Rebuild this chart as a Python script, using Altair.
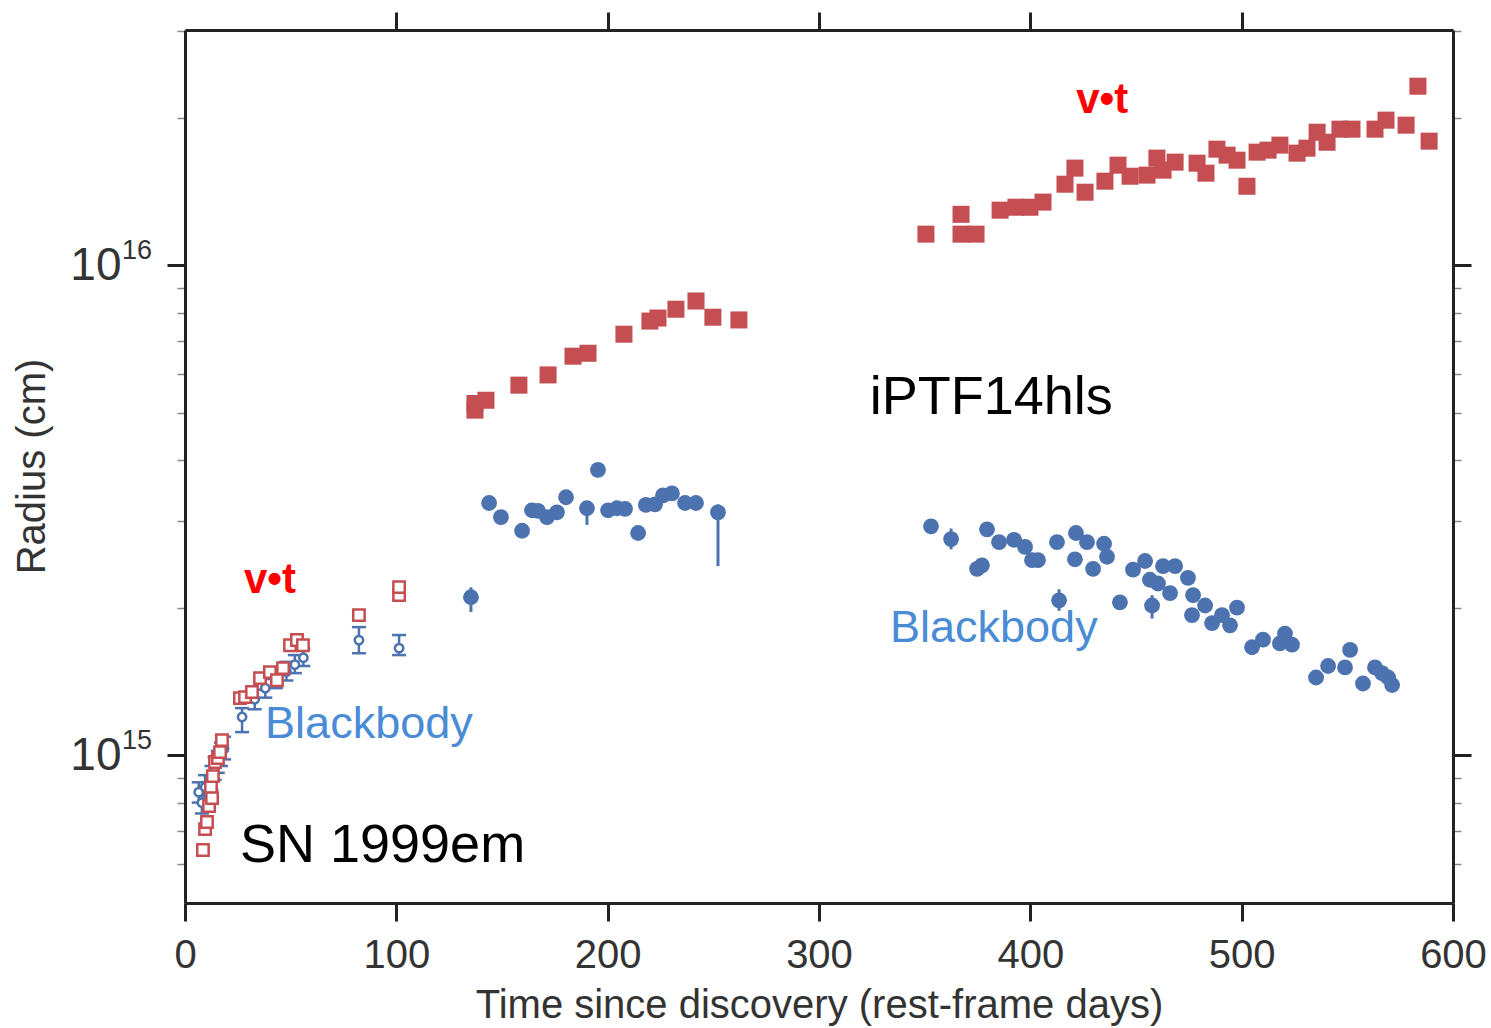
import altair as alt
import pandas as pd

RED = "#c44e52"
BLUE = "#4c72b0"
BB_TEXT = "#4a8bd6"
FONT = "Liberation Sans, Arial, Helvetica, sans-serif"
E15 = 1e15

# iPTF14hls, v*t radius (filled red squares), radius in units of 1e15 cm
vt_days = [137.2, 137.2, 142.4, 158.0, 171.8, 183.6, 190.7, 207.7, 220.0, 223.8, 232.3, 241.8, 249.8, 262.1,
           350.6, 367.2, 367.2, 374.3, 385.7, 393.2, 399.8, 406.0, 416.4, 421.1, 425.9, 435.3, 441.5, 447.2,
           455.2, 459.9, 462.8, 468.5, 478.9, 483.1, 488.3, 493.1, 497.8, 502.5, 507.3, 512.5, 518.1, 526.2,
           530.9, 535.7, 540.4, 546.5, 552.2, 563.1, 568.3, 577.8, 583.4, 588.7]
vt_r = [5.06, 5.22, 5.30, 5.69, 5.97, 6.52, 6.61, 7.23, 7.69, 7.80, 8.13, 8.45, 7.83, 7.73,
        11.57, 12.7, 11.57, 11.57, 12.95, 13.13, 13.13, 13.45, 14.63, 15.78, 14.09, 14.84, 16.0, 15.19,
        15.27, 16.54, 15.63, 16.23, 16.15, 15.41, 17.25, 16.77, 16.38, 14.49, 17.01, 17.17, 17.58, 16.93,
        17.33, 18.68, 17.82, 18.95, 18.95, 18.95, 19.77, 19.31, 23.19, 17.91]

# iPTF14hls, blackbody radius (filled blue circles)
bb_days = [135.3, 143.9, 149.5, 159.5, 164.2, 167.0, 171.3, 176.0, 180.3, 190.2, 195.4, 200.2, 204.4, 208.2,
           214.4, 218.1, 222.4, 226.2, 230.4, 236.6, 241.8, 252.2,
           353.0, 362.5, 379.5, 374.8, 377.1, 385.2, 392.3, 397.5, 400.8, 403.6, 412.6, 413.6, 421.6, 421.1,
           426.8, 429.7, 434.9, 436.3, 442.4, 448.6, 454.3, 462.8, 468.5, 474.6, 456.6, 460.4, 466.1, 457.6,
           477.0, 482.7, 476.5, 486.0, 490.7, 494.5, 497.8, 504.9, 510.1, 520.5, 518.1, 523.8, 535.2, 540.9,
           548.9, 551.3, 557.4, 563.1, 566.4, 569.3, 571.2]
bb_r = [2.10, 3.27, 3.06, 2.87, 3.16, 3.15, 3.06, 3.13, 3.36, 3.19, 3.82, 3.16, 3.19, 3.18,
        2.84, 3.24, 3.25, 3.39, 3.42, 3.27, 3.27, 3.13,
        2.93, 2.76, 2.89, 2.40, 2.44, 2.72, 2.75, 2.66, 2.50, 2.50, 2.72, 2.07, 2.84, 2.51,
        2.72, 2.40, 2.70, 2.54, 2.05, 2.39, 2.49, 2.43, 2.43, 2.30, 2.28, 2.24, 2.14, 2.02,
        2.12, 2.02, 1.93, 1.86, 1.93, 1.84, 2.00, 1.66, 1.72, 1.77, 1.69, 1.68, 1.44, 1.52,
        1.51, 1.64, 1.40, 1.51, 1.47, 1.44, 1.39]

# error bars on a few iPTF14hls blackbody points
bb_err_days = [135.3, 190.2, 252.2, 362.5, 413.6, 457.6]
bb_err_lo = [1.96, 2.95, 2.43, 2.63, 1.97, 1.90]
bb_err_hi = [2.20, 3.25, 3.25, 2.90, 2.18, 2.12]

# SN 1999em, v*t radius (open red squares)
sn_vt_days = [8.5, 9.5, 10.4, 11.4, 12.3, 12.8, 13.2, 14.2, 15.6, 16.6, 17.5, 26.0, 28.4, 31.7, 35.5, 40.2,
              43.5, 46.4, 49.7, 53.0, 55.8, 82.3, 101.3, 101.3]
sn_vt_r = [0.640, 0.706, 0.730, 0.787, 0.860, 0.817, 0.906, 0.968, 0.986, 1.014, 1.073, 1.307, 1.313, 1.345,
           1.436, 1.477, 1.422, 1.505, 1.676, 1.717, 1.676, 1.931, 2.121, 2.202]

# SN 1999em, blackbody radius (open blue circles with error bars)
sn_bb_days = [6.5, 8.0, 9.5, 11.0, 12.5, 14.0, 15.5, 17.0, 18.5, 27.0, 33.0, 38.0, 43.0, 48.0, 52.0, 56.0, 82.3, 101.3]
sn_bb_r = [0.84, 0.80, 0.86, 0.83, 0.90, 0.94, 0.97, 1.00, 1.03, 1.196, 1.30, 1.37, 1.43, 1.48, 1.53, 1.58, 1.717, 1.653]
sn_bb_lo = [0.80, 0.76, 0.81, 0.79, 0.85, 0.89, 0.92, 0.95, 0.98, 1.114, 1.24, 1.31, 1.37, 1.42, 1.47, 1.52, 1.614, 1.600]
sn_bb_hi = [0.88, 0.84, 0.91, 0.88, 0.95, 0.99, 1.02, 1.06, 1.09, 1.247, 1.36, 1.43, 1.50, 1.55, 1.60, 1.65, 1.825, 1.758]

# annotations
ann_text = ["v\u2022t", "v\u2022t", "iPTF14hls", "SN 1999em", "Blackbody", "Blackbody"]
ann_day = [434.0, 40.2, 324.0, 26.0, 333.6, 37.9]
ann_r = [21.7, 2.28, 5.36, 0.652, 1.816, 1.157]
ann_color = ["#ff0000", "#ff0000", "#000000", "#000000", BB_TEXT, BB_TEXT]
ann_size = [42, 42, 54, 54, 45, 45]
ann_weight = ["bold", "bold", "normal", "normal", "normal", "normal"]
ann_align = ["center", "center", "left", "left", "left", "left"]

x_ticks = [0, 100, 200, 300, 400, 500, 600]
x_top_ticks = [100, 200, 300, 400, 500]
y_major = [1e15, 1e16]
y_major_exp = ["15", "16"]
y_minor = [6e14, 7e14, 8e14, 9e14, 2e15, 3e15, 4e15, 5e15, 6e15, 7e15, 8e15, 9e15, 2e16, 3e16]

XDOM = [0, 600]
YDOM = [4.99e14, 3.02e16]

vt_df = pd.DataFrame({"day": vt_days, "r": [v * E15 for v in vt_r]})
bb_df = pd.DataFrame({"day": bb_days, "r": [v * E15 for v in bb_r]})
bb_err_df = pd.DataFrame({"day": bb_err_days, "lo": [v * E15 for v in bb_err_lo], "hi": [v * E15 for v in bb_err_hi]})
sn_vt_df = pd.DataFrame({"day": sn_vt_days, "r": [v * E15 for v in sn_vt_r]})
sn_bb_df = pd.DataFrame({"day": sn_bb_days, "r": [v * E15 for v in sn_bb_r],
                         "lo": [v * E15 for v in sn_bb_lo], "hi": [v * E15 for v in sn_bb_hi]})
exp_df = pd.DataFrame({"r": y_major, "t": y_major_exp})

xs = alt.Scale(domain=XDOM, nice=False, zero=False)
ys = alt.Scale(type="log", domain=YDOM, nice=False)

major_test = "datum.value == 1000000000000000 || datum.value == 10000000000000000"

x_bottom = alt.Axis(orient="bottom", values=x_ticks, title="Time since discovery (rest-frame days)",
                    labelFont=FONT, labelFontSize=40, labelColor="#333333", labelPadding=14, labelFlush=False,
                    tickSize=18, tickWidth=3, tickColor="#222222", domainWidth=3, domainColor="#222222",
                    titleFont=FONT, titleFontSize=40, titleColor="#333333", titleFontWeight="normal",
                    titleX=634, titleY=102, titleBaseline="middle", grid=False)
y_left = alt.Axis(orient="left", values=y_major + y_minor, title="Radius (cm)",
                  labelExpr=f"({major_test}) ? '10' : ''",
                  labelFont=FONT, labelFontSize=46, labelColor="#333333", labelPadding=46, labelFlush=False,
                  tickSize={"condition": {"test": major_test, "value": 18}, "value": 8},
                  tickColor={"condition": {"test": major_test, "value": "#222222"}, "value": "#888888"},
                  tickWidth={"condition": {"test": major_test, "value": 3}, "value": 1.5},
                  domainWidth=3, domainColor="#222222",
                  titleFont=FONT, titleFontSize=40, titleColor="#333333", titleFontWeight="normal",
                  titleX=-153, titleY=436, titleBaseline="middle", titleAngle=-90, grid=False)
x_top = alt.Axis(orient="top", values=x_top_ticks, labels=False, title=None,
                 tickSize=18, tickWidth=3, tickColor="#222222", domainWidth=3, domainColor="#222222", grid=False)
y_right = alt.Axis(orient="right", values=y_major + y_minor, labels=False, title=None,
                   tickSize={"condition": {"test": major_test, "value": 18}, "value": 8},
                   tickColor={"condition": {"test": major_test, "value": "#222222"}, "value": "#888888"},
                   tickWidth={"condition": {"test": major_test, "value": 3}, "value": 1.5},
                   domainWidth=3, domainColor="#222222", grid=False)

bb_err = alt.Chart(bb_err_df).mark_rule(color=BLUE, strokeWidth=3).encode(
    x=alt.X("day:Q", scale=xs, axis=x_bottom),
    y=alt.Y("lo:Q", scale=ys, axis=y_left),
    y2="hi:Q",
)
bb_pts = alt.Chart(bb_df).mark_point(shape="circle", filled=True, color=BLUE, opacity=1, size=250).encode(
    x=alt.X("day:Q", scale=xs, axis=None),
    y=alt.Y("r:Q", scale=ys, axis=None),
)
vt_pts = alt.Chart(vt_df).mark_point(shape="square", filled=True, color=RED, opacity=1, size=290).encode(
    x=alt.X("day:Q", scale=xs, axis=x_top),
    y=alt.Y("r:Q", scale=ys, axis=y_right),
)
sn_err = alt.Chart(sn_bb_df).mark_rule(color=BLUE, strokeWidth=2.5).encode(
    x=alt.X("day:Q", scale=xs, axis=None),
    y=alt.Y("lo:Q", scale=ys, axis=None),
    y2="hi:Q",
)
sn_cap_lo = alt.Chart(sn_bb_df).mark_tick(color=BLUE, orient="horizontal", size=14, thickness=2.5, opacity=1).encode(
    x=alt.X("day:Q", scale=xs, axis=None),
    y=alt.Y("lo:Q", scale=ys, axis=None),
)
sn_cap_hi = alt.Chart(sn_bb_df).mark_tick(color=BLUE, orient="horizontal", size=14, thickness=2.5, opacity=1).encode(
    x=alt.X("day:Q", scale=xs, axis=None),
    y=alt.Y("hi:Q", scale=ys, axis=None),
)
sn_bb_pts = alt.Chart(sn_bb_df).mark_point(shape="circle", filled=True, fill="white", stroke=BLUE,
                                           strokeWidth=2.5, opacity=1, size=70).encode(
    x=alt.X("day:Q", scale=xs, axis=None),
    y=alt.Y("r:Q", scale=ys, axis=None),
)
sn_vt_pts = alt.Chart(sn_vt_df).mark_point(shape="square", filled=True, fill="white", stroke=RED,
                                           strokeWidth=2.5, opacity=1, size=130).encode(
    x=alt.X("day:Q", scale=xs, axis=None),
    y=alt.Y("r:Q", scale=ys, axis=None),
)
# superscript exponents of the y tick labels
exp_text = alt.Chart(exp_df).mark_text(font=FONT, fontSize=27, color="#333333", align="left",
                                       baseline="middle", dy=-14).encode(
    x=alt.value(-63),
    y=alt.Y("r:Q", scale=ys, axis=None),
    text="t:N",
)

text_layers = []
for i in range(len(ann_text)):
    df = pd.DataFrame({"day": [ann_day[i]], "r": [ann_r[i] * E15], "t": [ann_text[i]]})
    text_layers.append(
        alt.Chart(df).mark_text(font=FONT, fontSize=ann_size[i], fontWeight=ann_weight[i],
                                color=ann_color[i], align=ann_align[i], baseline="middle").encode(
            x=alt.X("day:Q", scale=xs, axis=None),
            y=alt.Y("r:Q", scale=ys, axis=None),
            text="t:N",
        )
    )

chart = alt.layer(bb_err, bb_pts, vt_pts, sn_err, sn_cap_lo, sn_cap_hi, sn_bb_pts, sn_vt_pts, exp_text,
                  *text_layers).resolve_axis(
    x="independent", y="independent"
).properties(
    width=1268, height=873,
    autosize=alt.AutoSizeParams(type="none"),
    padding={"left": 185, "top": 30, "right": 38, "bottom": 125},
    background="white",
).configure_view(stroke=None)

chart.save("out.html", embed_options={"renderer": "svg", "actions": False})
